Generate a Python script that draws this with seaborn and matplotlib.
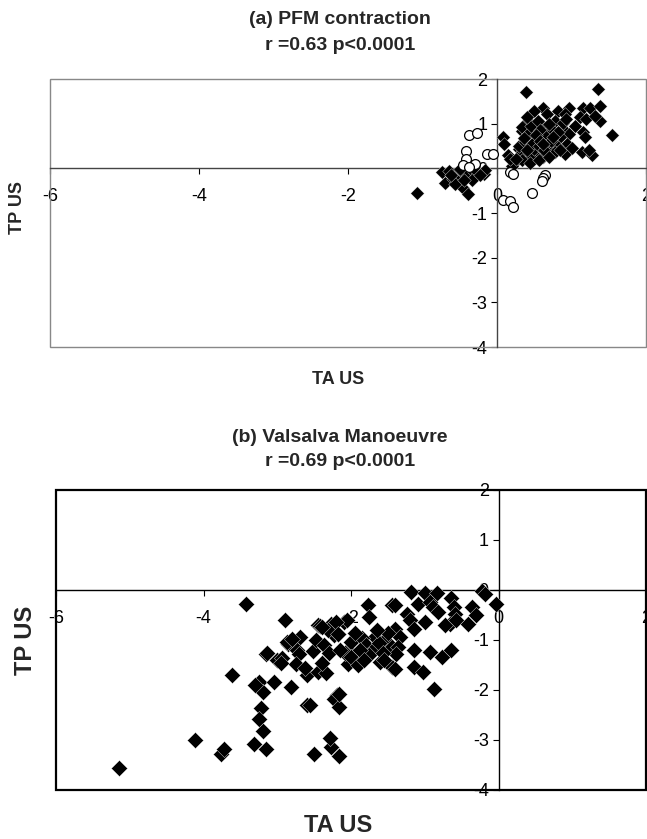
import matplotlib
matplotlib.use("Agg")
import matplotlib.pyplot as plt
import seaborn as sns
import pandas as pd
from matplotlib.patches import Rectangle

# ---------------- data ----------------
# Panel (a) PFM contraction: filled diamonds
a_diamond_x = [-1.07, -0.74, -0.65, -0.70, -0.59, -0.54, -0.47, -0.41, -0.34, -0.27, -0.18, -0.16,
               -0.45, -0.39, -0.34, -0.56, -0.23, -0.50, -0.62, -0.44,
               0.08, 0.10, 0.15, 0.24, 0.31, 0.33, 0.29, 0.20, 0.18,
               0.39, 1.36, 1.55,
               1.16, 1.25, 1.38, 1.11, 1.20, 1.38, 1.32, 1.16, 1.18, 1.14, 1.27, 1.23,
               0.96, 0.82, 0.91, 0.62, 0.49, 0.67, 0.42, 0.33,
               0.78, 0.89, 0.96, 0.85, 0.94, 0.91, 0.80, 0.69, 0.55, 0.44, 0.33, 0.29, 0.38, 0.51,
               0.64, 0.60, 0.73, 0.51, 0.42, 0.69, 0.78, 0.62, 0.49, 0.33, 0.26,
               0.45, 0.55, 0.58, 0.66, 0.72, 0.47, 0.56, 0.63, 0.40, 0.52, 0.70, 0.82, 0.75, 0.36,
               0.58, 0.88, 0.93, 0.44, 0.57, 0.70, 1.00, 1.05, 0.85, 0.40, 0.62]
a_diamond_y = [-0.55, -0.09, -0.06, -0.32, -0.23, -0.16, -0.08, -0.12, -0.04, -0.08, -0.12, -0.03,
               -0.45, -0.57, -0.27, -0.34, -0.16, -0.02, -0.15, -0.25,
               0.70, 0.55, 0.29, 0.14, 0.29, 0.84, 0.44, 0.05, 0.22,
               1.72, 1.77, 0.75,
               1.36, 1.36, 1.40, 1.14, 1.10, 1.07, 1.18, 0.81, 0.70, 0.36, 0.29, 0.40,
               1.36, 1.29, 1.21, 1.36, 1.29, 1.21, 1.07, 0.92,
               1.07, 0.88, 0.77, 0.70, 0.55, 0.33, 0.51, 0.44, 0.29, 0.25, 0.36, 0.51, 0.58, 0.66,
               0.77, 0.96, 0.88, 0.88, 0.77, 0.58, 0.36, 0.25, 0.44, 0.18, 0.22,
               0.95, 1.05, 0.85, 0.70, 0.62, 0.55, 0.50, 0.40, 0.40, 0.75, 1.00, 0.82, 0.70, 0.68,
               0.62, 1.02, 1.10, 0.12, 0.18, 0.25, 0.45, 0.95, 0.40, 1.15, 0.55]

# Panel (a): open circles
a_circle_x = [-0.38, -0.27, -0.41, -0.42, -0.45, -0.30, -0.38, -0.14, -0.05, 0.18, 0.22,
              0.08, 0.17, 0.21, 0.47, 0.64, 0.62, 0.61]
a_circle_y = [0.75, 0.79, 0.38, 0.22, 0.08, 0.10, 0.02, 0.33, 0.33, -0.08, -0.13,
              -0.71, -0.73, -0.86, -0.56, -0.16, -0.22, -0.28]

# Panel (b) Valsalva manoeuvre: filled diamonds
b_x = [-5.15, -4.11, -3.76, -3.72, -3.61, -3.43,
       -3.22, -3.25, -3.19, -3.31, -3.15,
       -3.25, -3.19, -3.04, -2.81, -2.59,
       -2.59, -2.45, -2.34, -2.27, -2.50, -2.16, -2.28,
       -2.19, -2.23, -2.16, -2.16,
       -3.15, -3.00, -2.93, -2.86, -2.69, -2.73, -2.71, -2.74, -2.52, -2.84, -2.90,
       -3.14, -2.45, -2.23, -2.42, -2.27, -2.09, -2.18, -2.31, -2.87, -2.80,
       -2.04, -2.04, -1.77, -1.75, -1.44,
       -2.00, -2.08, -2.00, -1.91, -1.61, -1.44, -1.68, -1.54, -1.45,
       -1.18, -1.00, -0.84, -0.65, -0.22, -0.18, -0.03,
       -1.41, -1.09, -0.93, -0.89, -0.82, -1.24, -1.20, -1.15, -1.00,
       -0.61, -0.59, -0.66, -0.72, -0.57, -0.36, -0.30, -0.42,
       -1.41, -1.34, -1.36, -1.39, -1.15, -0.93, -0.77, -0.64,
       -1.41, -1.15, -1.02, -0.87,
       -2.05, -2.21, -2.39, -2.18,
       -1.85, -1.80, -1.70, -1.62, -1.75, -1.88, -1.57, -1.50, -1.65, -1.95, -1.82, -1.55,
       -2.56, -3.30, -2.95, -2.62, -2.48, -2.36, -2.30, -2.40, -2.15]
b_y = [-3.55, -3.00, -3.27, -3.17, -1.70, -0.28,
       -2.35, -2.57, -2.82, -3.07, -3.17,
       -1.83, -2.03, -1.83, -1.93, -2.30,
       -1.70, -1.63, -1.66, -3.13, -3.28, -3.32, -2.95,
       -2.10, -2.17, -2.33, -2.07,
       -1.27, -1.40, -1.36, -1.07, -0.93, -1.20, -1.27, -1.47, -1.21, -1.03, -0.59,
       -1.25, -0.70, -0.90, -0.72, -0.67, -0.63, -0.87, -0.80, -1.03, -0.97,
       -1.20, -1.47, -0.30, -0.53, -0.30,
       -1.03, -1.26, -1.33, -1.50, -1.43, -1.53, -0.93, -1.00, -1.13,
       -0.03, -0.05, -0.05, -0.15, -0.01, -0.07, -0.27,
       -0.30, -0.27, -0.23, -0.33, -0.43, -0.47, -0.60, -0.77, -0.63,
       -0.33, -0.47, -0.67, -0.70, -0.60, -0.33, -0.50, -0.67,
       -0.77, -0.93, -1.13, -1.27, -1.20, -1.23, -1.33, -1.20,
       -1.57, -1.53, -1.63, -1.97,
       -0.60, -0.63, -0.73, -0.87,
       -0.95, -1.10, -1.20, -1.05, -1.30, -1.20, -1.25, -0.85, -0.80, -0.85, -1.40, -1.40,
       -2.30, -1.90, -1.45, -1.55, -1.00, -1.10, -1.25, -1.45, -1.20]

x_ticks = [-6, -4, -2, 0, 2]
y_ticks = [-4, -3, -2, -1, 0, 1, 2]

titles_a = ["(a) PFM contraction", "r =0.63 p<0.0001"]
titles_b = ["(b) Valsalva Manoeuvre", "r =0.69 p<0.0001"]
x_label = "TA US"
y_label = "TP US"

# ---------------- style ----------------
sns.set_style("white")
plt.rcParams["font.family"] = ["Liberation Sans", "DejaVu Sans"]
plt.rcParams["axes.unicode_minus"] = False

W, H = 647, 839
fig = plt.figure(figsize=(W / 100, H / 100), dpi=100)


def frac_rect(left, top, right, bottom):
    return [left / W, 1 - bottom / H, (right - left) / W, (bottom - top) / H]


axA = fig.add_axes(frac_rect(50, 79, 646, 347))
axB = fig.add_axes(frac_rect(56, 490, 646, 790))

dfa = pd.DataFrame({"x": a_diamond_x, "y": a_diamond_y})
dfc = pd.DataFrame({"x": a_circle_x, "y": a_circle_y})
dfb = pd.DataFrame({"x": b_x, "y": b_y})

sns.scatterplot(data=dfa, x="x", y="y", ax=axA, marker="D", s=48, color="black",
                edgecolor="white", linewidth=0.25, zorder=3)
sns.scatterplot(data=dfc, x="x", y="y", ax=axA, marker="o", s=50, facecolor="white",
                edgecolor="black", linewidth=0.9, zorder=4)
sns.scatterplot(data=dfb, x="x", y="y", ax=axB, marker="D", s=68, color="black",
                edgecolor="white", linewidth=0.25, zorder=3)


def style_axes(ax, box_color, box_lw, axis_color):
    ax.set_xlim(-6, 2)
    ax.set_ylim(-4, 2)
    ax.set_xticks(x_ticks)
    ax.set_yticks(y_ticks)
    ax.set_xticklabels([str(t) for t in x_ticks])
    ax.set_yticklabels([str(t) for t in y_ticks])
    ax.set_xlabel("")
    ax.set_ylabel("")
    ax.spines["left"].set_position(("data", 0))
    ax.spines["bottom"].set_position(("data", 0))
    ax.spines["top"].set_visible(False)
    ax.spines["right"].set_visible(False)
    for s in ("left", "bottom"):
        ax.spines[s].set_color(axis_color)
        ax.spines[s].set_linewidth(1.0)
        ax.spines[s].set_zorder(2)
    ax.tick_params(axis="x", direction="out", length=4, width=0.8, pad=10.5,
                   labelsize=13, colors="black", bottom=True)
    ax.tick_params(axis="y", direction="out", length=4, width=0.8, pad=3,
                   labelsize=13, colors="black", left=True)
    ax.add_patch(Rectangle((0, 0), 1, 1, transform=ax.transAxes, fill=False,
                           edgecolor=box_color, linewidth=box_lw, zorder=1, clip_on=False))
    ax.grid(False)


style_axes(axA, "#888888", 1.0, "#444444")
style_axes(axB, "black", 1.6, "black")

# titles
fig.text(340 / W, 1 - 20 / H, titles_a[0], ha="center", va="center", fontsize=14, fontweight="bold")
fig.text(340 / W, 1 - 45 / H, titles_a[1], ha="center", va="center", fontsize=14, fontweight="bold")
fig.text(340 / W, 1 - 437 / H, titles_b[0], ha="center", va="center", fontsize=14, fontweight="bold")
fig.text(340 / W, 1 - 461 / H, titles_b[1], ha="center", va="center", fontsize=14, fontweight="bold")

# axis labels
fig.text(338 / W, 1 - 380 / H, x_label, ha="center", va="center", fontsize=13, fontweight="bold")
fig.text(18 / W, 1 - 207 / H, y_label, ha="center", va="center", fontsize=13, fontweight="bold",
         rotation=90)
fig.text(338 / W, 1 - 825 / H, x_label, ha="center", va="center", fontsize=17, fontweight="bold")
fig.text(25 / W, 1 - 640 / H, y_label, ha="center", va="center", fontsize=17, fontweight="bold",
         rotation=90)

fig.savefig("out.png", dpi=100)
